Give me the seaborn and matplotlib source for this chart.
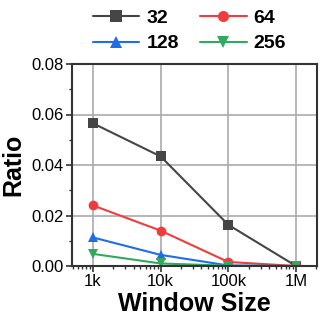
import matplotlib
matplotlib.use("Agg")
import matplotlib.pyplot as plt
import seaborn as sns
import pandas as pd
import numpy as np
from matplotlib.ticker import MultipleLocator, LogLocator, NullFormatter, FormatStrFormatter
from matplotlib.lines import Line2D

window_sizes = [1e3, 1e4, 1e5, 1e6]
x_tick_labels = ["1k", "10k", "100k", "1M"]
series_names = ["32", "64", "128", "256"]
ratio_32 = [0.0565, 0.0434, 0.0163, 0.0]
ratio_64 = [0.0240, 0.0140, 0.0016, 0.0]
ratio_128 = [0.0113, 0.0044, 0.0002, 0.0]
ratio_256 = [0.0048, 0.0010, 0.0001, 0.0]

rows = []
for name, vals in zip(series_names, [ratio_32, ratio_64, ratio_128, ratio_256]):
    for w, v in zip(window_sizes, vals):
        rows.append({"Window Size": w, "Ratio": v, "series": name})
df = pd.DataFrame(rows)

sns.set_theme(style="white")
plt.rcParams['font.family'] = ['Liberation Sans', 'DejaVu Sans']
plt.rcParams['text.color'] = 'black'
plt.rcParams['axes.labelcolor'] = 'black'

fig = plt.figure(figsize=(3.25, 3.2), dpi=100)
ax = fig.add_axes([72/325, 1-266/320, (317-72)/325, (266-64)/320])

palette = {"32": "#454545", "64": "#f03c3c", "128": "#1f6ee8", "256": "#33a860"}
markers = {"32": "s", "64": "o", "128": "^", "256": "v"}
sns.lineplot(data=df, x="Window Size", y="Ratio", hue="series", style="series",
             palette=palette, markers=markers, dashes=False, markersize=7,
             linewidth=1.5, markeredgewidth=0, ax=ax, legend=False)

ax.set_xscale("log")
ax.set_xlim(10**2.69, 10**6.31)
ax.set_ylim(0, 0.08)
ax.set_xticks(window_sizes)
ax.set_xticklabels(x_tick_labels)
ax.xaxis.set_minor_locator(LogLocator(base=10, subs=np.arange(2, 10)))
ax.xaxis.set_minor_formatter(NullFormatter())
ax.yaxis.set_major_locator(MultipleLocator(0.02))
ax.yaxis.set_minor_locator(MultipleLocator(0.01))
ax.yaxis.set_major_formatter(FormatStrFormatter("%.2f"))
ax.grid(True, which="major", color="#aaaaaa", linewidth=1.2)
ax.set_axisbelow(True)
for s in ax.spines.values():
    s.set_color("#333333")
    s.set_linewidth(1.5)
ax.tick_params(which="major", direction="out", length=4, width=1.2, labelsize=12,
               colors="#333333", labelcolor="black", bottom=True, left=True, pad=2)
ax.tick_params(which="minor", direction="out", length=2, width=1, bottom=True,
               left=True, colors="#333333")
ax.set_xlabel("Window Size", fontsize=18, fontweight="bold", labelpad=2)
ax.set_ylabel("Ratio", fontsize=18, fontweight="bold", labelpad=4)

handles = {n: Line2D([], [], color=palette[n], marker=markers[n], markersize=8,
                     markeredgewidth=0, linewidth=1.5) for n in series_names}
order = ["32", "128", "64", "256"]
leg = fig.legend([handles[n] for n in order], order, ncol=2, loc="upper left",
                 bbox_to_anchor=(85/325, 0.995), frameon=False, handlelength=2.4,
                 columnspacing=1.1, handletextpad=0.35, labelspacing=0.4,
                 borderaxespad=0, prop={"size": 14, "weight": "bold"})

fig.savefig("out.png", dpi=100)
